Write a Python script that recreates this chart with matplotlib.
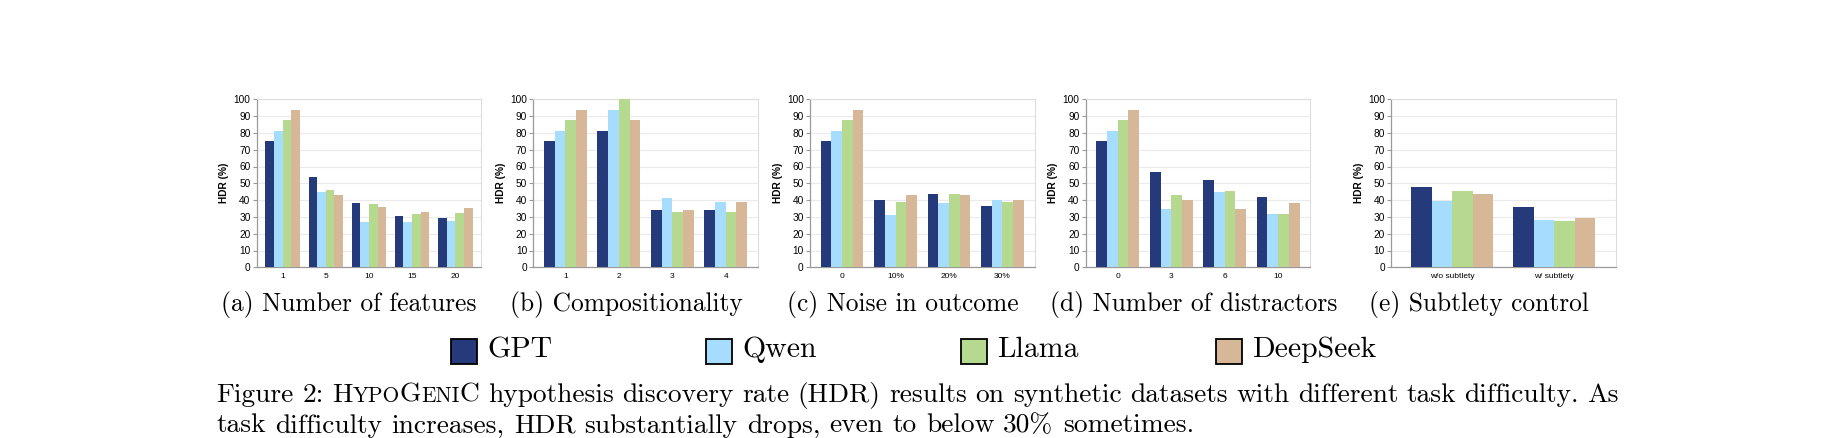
import numpy as np
import matplotlib
matplotlib.use('Agg')
import matplotlib.pyplot as plt
from matplotlib.patches import Rectangle

plt.rcParams['font.family'] = ['Liberation Sans', 'DejaVu Sans']

# data
models = ['GPT', 'Qwen', 'Llama', 'DeepSeek']
colors = ['#243a7a', '#a6dcfd', '#b6d990', '#d6b898']

features_x = ['1', '5', '10', '15', '20']
features_gpt = [75, 53.5, 38.5, 30.5, 29.5]
features_qwen = [81.25, 45, 27.2, 26.8, 27.6]
features_llama = [87.5, 46, 37.7, 32, 32.1]
features_deepseek = [93.75, 43, 36.1, 32.7, 35.3]

comp_x = ['1', '2', '3', '4']
comp_gpt = [75, 81.25, 34, 34]
comp_qwen = [81.25, 93.75, 41.3, 38.9]
comp_llama = [87.5, 100, 33.1, 33.1]
comp_deepseek = [93.75, 87.5, 34, 38.9]

noise_x = ['0', '10%', '20%', '30%']
noise_gpt = [75, 40, 43.5, 36.5]
noise_qwen = [81.25, 31.25, 38.5, 40]
noise_llama = [87.5, 38.9, 43.5, 38.7]
noise_deepseek = [93.75, 43, 43, 40]

distr_x = ['0', '3', '6', '10']
distr_gpt = [75, 56.5, 52, 41.7]
distr_qwen = [81.25, 35, 45, 31.5]
distr_llama = [87.5, 43, 45.5, 31.5]
distr_deepseek = [93.75, 40, 34.5, 38.3]

subtle_x = ['w/o subtlety', 'w/ subtlety']
subtle_gpt = [47.7, 35.8]
subtle_qwen = [39.4, 28.4]
subtle_llama = [45.5, 27.6]
subtle_deepseek = [43.5, 29.6]

panels = [
    (features_x, [features_gpt, features_qwen, features_llama, features_deepseek], '(a) Number of features'),
    (comp_x, [comp_gpt, comp_qwen, comp_llama, comp_deepseek], '(b) Compositionality'),
    (noise_x, [noise_gpt, noise_qwen, noise_llama, noise_deepseek], '(c) Noise in outcome'),
    (distr_x, [distr_gpt, distr_qwen, distr_llama, distr_deepseek], '(d) Number of distractors'),
    (subtle_x, [subtle_gpt, subtle_qwen, subtle_llama, subtle_deepseek], '(e) Subtlety control'),
]

W, H = 1836, 438
fig = plt.figure(figsize=(W / 100, H / 100), dpi=100)
renderer = fig.canvas.get_renderer()


def frag_width(s, size):
    t = fig.text(0, 0, s, fontsize=size, fontfamily='cmr10')
    w = t.get_window_extent(renderer).width
    t.remove()
    return w


def fit_size(s, target):
    # the reference is stretched sideways, so size text by its width
    return 10 * target / frag_width(s, 10)


ax_left = [256.7, 533.3, 810, 1085.7, 1391]
ax_w = 224.5
ax_top, ax_bot = 99.3, 267.3
# left / right edges of the sub-captions in the reference
cap_span = [(221.7, 475), (511.7, 741), (788, 1018), (1050, 1336.7), (1366.7, 1592)]

cap_size = np.mean([fit_size(p[2], r - l) for p, (l, r) in zip(panels, cap_span)])

for i, (xl, series, cap) in enumerate(panels):
    ax = fig.add_axes([ax_left[i] / W, (H - ax_bot) / H, ax_w / W, (ax_bot - ax_top) / H])
    x = np.arange(len(xl))
    for k, vals in enumerate(series):
        ax.bar(x + (k - 1.5) * 0.2, vals, width=0.2, color=colors[k],
               edgecolor='none', zorder=3)
    ax.set_xlim(-0.6, len(xl) - 0.4)
    ax.set_ylim(0, 100)
    ax.set_yticks(range(0, 101, 10))
    ax.set_xticks(x)
    ax.set_xticklabels(xl)
    ax.grid(axis='y', color='#ebebeb', lw=0.8, zorder=0)
    ax.set_axisbelow(True)
    for s in ['top', 'right']:
        ax.spines[s].set_color('#dddddd')
        ax.spines[s].set_linewidth(0.8)
    for s in ['left', 'bottom']:
        ax.spines[s].set_color('#9a9a9a')
        ax.spines[s].set_linewidth(0.9)
    ax.tick_params(axis='x', length=0, labelsize=6, pad=4)
    ax.tick_params(axis='y', length=3, width=0.8, color='#9a9a9a',
                   labelsize=7.3, pad=1.5)
    ax.set_ylabel('HDR (%)', fontsize=7.3, fontweight='bold', labelpad=3)
    l, r = cap_span[i]
    fig.text((l + r) / 2 / W, (H - 310.7) / H, cap, fontsize=cap_size,
             fontfamily='cmr10', va='baseline', ha='center')

# legend with evenly spaced keys
key_x = [451, 706, 961, 1216]
leg_size = fit_size('DeepSeek', 124.3)
for k, name in enumerate(models):
    fig.patches.append(Rectangle((key_x[k] / W, (H - 364.3) / H), 26 / W, 25.3 / H,
                                 transform=fig.transFigure, facecolor=colors[k],
                                 edgecolor='black', linewidth=1.3))
    fig.text((key_x[k] + 36) / W, (H - 357.3) / H, name, fontsize=leg_size,
             fontfamily='cmr10', va='baseline', ha='left')


def draw_line(words, x0, base, size, x1=None):
    # words is a list of lists of (text, relative size) fragments
    widths = [sum(frag_width(s, size * z) for s, z in wd) for wd in words]
    if x1 is None:
        gap = frag_width('a a', size) - 2 * frag_width('a', size)
    else:
        gap = (x1 - x0 - sum(widths)) / (len(words) - 1)
    x = x0
    for wd, wdw in zip(words, widths):
        xx = x
        for s, z in wd:
            fig.text(xx / W, (H - base) / H, s, fontsize=size * z, fontfamily='cmr10',
                     va='baseline', ha='left')
            xx += frag_width(s, size * z)
        x += wdw + gap


line2 = 'task difficulty increases, HDR substantially drops, even to below 30% sometimes.'
txt_size = fit_size(line2, 980)

line1 = ('Figure 2: HYPOGENIC hypothesis discovery rate (HDR) results on synthetic '
         'datasets with different task difficulty. As').split()
words1 = []
for w in line1:
    if w == 'HYPOGENIC':
        words1.append([('H', 1), ('YPO', 0.78), ('G', 1), ('ENI', 0.78), ('C', 1)])
    else:
        words1.append([(w, 1)])
draw_line(words1, 216.7, 401.7, txt_size, 1619)
draw_line([[(w, 1)] for w in line2.split()], 216.7, 432.5, txt_size)

fig.savefig('out.png', dpi=100)
